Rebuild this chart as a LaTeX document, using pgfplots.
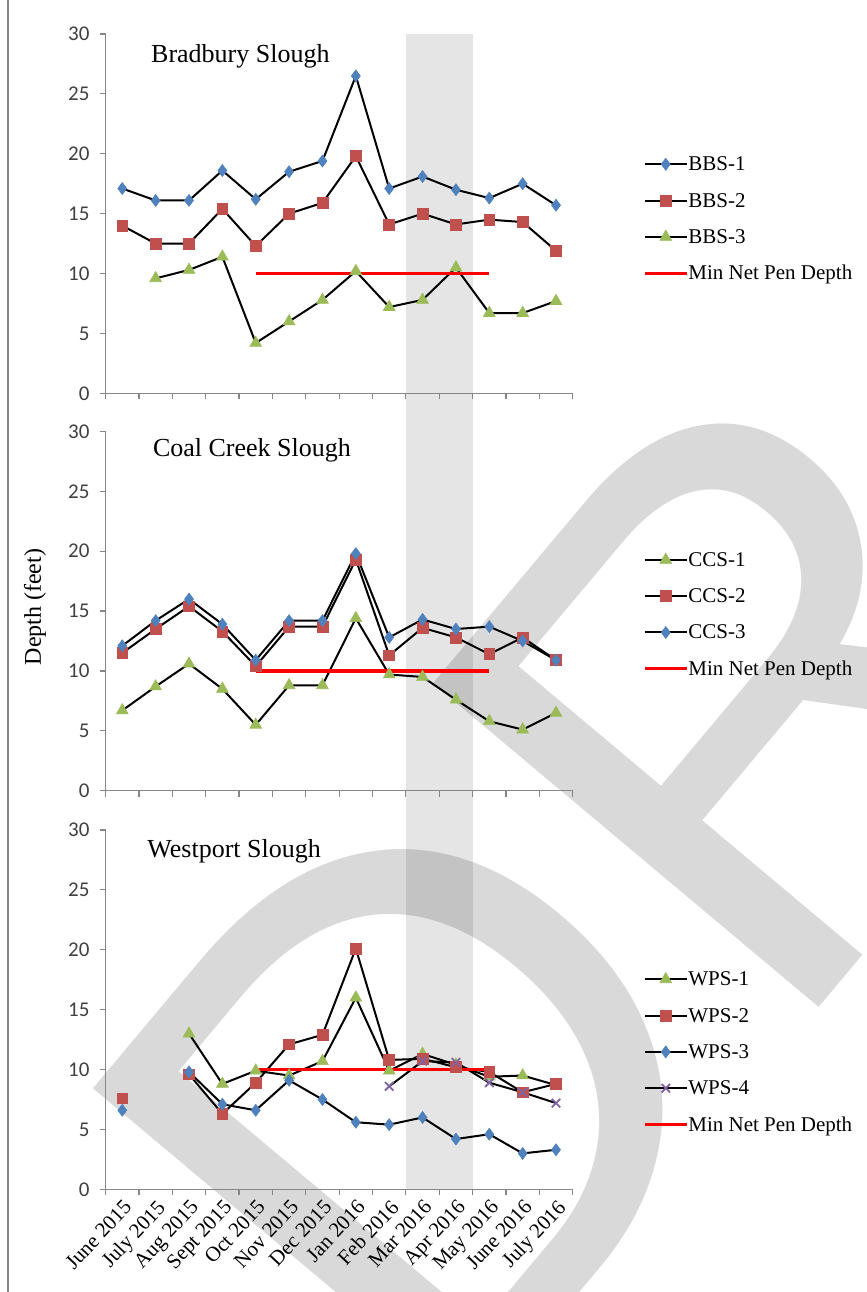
\documentclass[border=0pt]{standalone}
\usepackage{fontspec}
\setmainfont{Liberation Serif}
\newfontfamily\carlito{Carlito}
\newfontfamily\wmfont{Liberation Sans}
\usepackage{pgfplots}
\pgfplotsset{compat=1.18}
\definecolor{xblue}{HTML}{4F81BD}
\definecolor{xred}{HTML}{C0504D}
\definecolor{xgreen}{HTML}{9BBB59}
\definecolor{xpurple}{HTML}{8064A2}
\definecolor{axgray}{HTML}{868686}
\definecolor{ticktext}{HTML}{404040}

\pgfplotsset{
 panel/.style={
  scale only axis, width=233.55pt, height=179.65pt,
  xmin=-0.5, xmax=13.5, ymin=0, ymax=30,
  ytick={0,5,...,30},
  xtick={0,...,13}, major x tick style={draw=none},
  minor xtick={-0.5,0.5,...,13.5},
  axis x line*=bottom, axis y line*=left,
  axis line style={axgray, line width=0.6pt, -},
  tick style={axgray, line width=0.6pt},
  tick align=outside, major tick length=3pt, minor tick length=3pt,
  yticklabel style={font=\carlito\fontsize{10.5}{12}\selectfont, text=ticktext, xshift=-1.5pt},
  /pgf/number format/assume math mode=true,
  unbounded coords=jump,
  clip=false,
  legend style={draw=none, fill=none, anchor=north west, font=\fontsize{10.5}{12}\selectfont,
     inner sep=0pt, row sep=8.65pt, nodes={inner sep=0pt, text height=8pt, text depth=1.5pt},
     cells={anchor=west}, /tikz/every even column/.append style={column sep=1pt}},
  legend image code/.code={\draw[mark repeat=2,mark phase=2,##1] plot coordinates {(0pt,0pt)(10.5pt,0pt)(21pt,0pt)};},
 },
 ser/.style={black, line width=1pt, mark options={solid, draw=#1, fill=#1, line width=0.3pt}},
 minline/.style={red, line width=1.6pt, no marks},
}

\pgfplotstableread{
x  b1   b2   b3
0  17.1 14.0 nan
1  16.1 12.5 9.6
2  16.1 12.5 10.3
3  18.6 15.4 11.4
4  16.2 12.3 4.2
5  18.5 15.0 6.0
6  19.4 15.9 7.8
7  26.5 19.8 10.2
8  17.1 14.1 7.2
9  18.1 15.0 7.8
10 17.0 14.1 10.5
11 16.3 14.5 6.7
12 17.5 14.3 6.7
13 15.7 11.9 7.7
}\bbs

\pgfplotstableread{
x  c1   c2   c3
0  6.7  11.5 12.1
1  8.7  13.5 14.2
2  10.6 15.4 16.0
3  8.5  13.3 13.9
4  5.5  10.4 10.9
5  8.8  13.7 14.2
6  8.8  13.7 14.2
7  14.4 19.3 19.8
8  9.7  11.3 12.8
9  9.5  13.6 14.3
10 7.6  12.8 13.5
11 5.8  11.4 13.7
12 5.1  12.8 12.5
13 6.5  10.9 10.9
}\ccs

\pgfplotstableread{
x  w1   w2   w3   w4
0  nan  7.6  6.6  nan
1  nan  nan  nan  nan
2  13.0 9.6  9.8  nan
3  8.8  6.3  7.1  nan
4  9.9  8.9  6.6  nan
5  9.5  12.1 9.1  nan
6  10.7 12.9 7.5  nan
7  16.0 20.1 5.6  nan
8  9.9  10.8 5.4  8.6
9  11.3 10.9 6.0  10.7
10 10.4 10.2 4.2  10.6
11 9.4  9.8  4.6  8.9
12 9.5  8.1  3.0  8.1
13 8.7  8.8  3.3  7.2
}\wps

\begin{document}
\begin{tikzpicture}
\useasboundingbox (0,0) rectangle (433.5pt,-646pt);
% watermark
\begin{scope}
\clip (0,0) rectangle (433.5pt,-646pt);
\node[rotate=50, text=black, text opacity=0.15, font=\wmfont\fontsize{366}{366}\selectfont, inner sep=0pt] at (516pt,-181pt) {DRAFT};
\end{scope}
% grey band (Mar--Apr 2016)
\fill[black, opacity=0.1] (202.96pt,-17pt) rectangle (236.3pt,-594.65pt);
% left frame line
\draw[color=axgray, line width=1pt] (4pt,0pt) -- (4pt,-646pt);

% Panel 1
\begin{axis}[panel, at={(52.8pt,-196.65pt)}, anchor=south west, xticklabels={},
  legend style={at={(1.150,0.665)}}]
\addplot[ser=xblue, mark=diamond*, mark size=3pt] table[x=x,y=b1] {\bbs};
\addlegendentry{BBS-1}
\addplot[ser=xred, mark=square*, mark size=2.7pt] table[x=x,y=b2] {\bbs};
\addlegendentry{BBS-2}
\addplot[ser=xgreen, mark=triangle*, mark size=3.4pt] table[x=x,y=b3] {\bbs};
\addlegendentry{BBS-3}
\addplot[minline] coordinates {(4,10) (11,10)};
\addlegendentry{Min Net Pen Depth}
\end{axis}

% Panel 2
\begin{axis}[panel, at={(52.8pt,-395.35pt)}, anchor=south west, xticklabels={},
  legend style={at={(1.150,0.670)}}]
\addplot[ser=xgreen, mark=triangle*, mark size=3.4pt] table[x=x,y=c1] {\ccs};
\addlegendentry{CCS-1}
\addplot[ser=xred, mark=square*, mark size=2.7pt] table[x=x,y=c2] {\ccs};
\addlegendentry{CCS-2}
\addplot[ser=xblue, mark=diamond*, mark size=3pt] table[x=x,y=c3] {\ccs};
\addlegendentry{CCS-3}
\addplot[minline] coordinates {(4,10) (11,10)};
\addlegendentry{Min Net Pen Depth}
\end{axis}

% Panel 3
\begin{axis}[panel, at={(52.8pt,-594.65pt)}, anchor=south west,
  xticklabels={June 2015, July 2015, Aug 2015, Sept 2015, Oct 2015, Nov 2015, Dec 2015, Jan 2016, Feb 2016, Mar 2016, Apr 2016, May 2016, June 2016, July 2016},
  xticklabel style={rotate=47, anchor=north east, font=\fontsize{10.5}{12}\selectfont, inner sep=1pt},
  legend style={at={(1.150,0.612)}}]
\addplot[ser=xgreen, mark=triangle*, mark size=3.4pt] table[x=x,y=w1] {\wps};
\addlegendentry{WPS-1}
\addplot[ser=xred, mark=square*, mark size=2.7pt] table[x=x,y=w2] {\wps};
\addlegendentry{WPS-2}
\addplot[ser=xblue, mark=diamond*, mark size=3pt] table[x=x,y=w3] {\wps};
\addlegendentry{WPS-3}
\addplot[black, line width=1pt, mark=x, mark size=3pt, mark options={solid, draw=xpurple, line width=0.9pt}] table[x=x,y=w4] {\wps};
\addlegendentry{WPS-4}
\addplot[minline] coordinates {(4,10) (11,10)};
\addlegendentry{Min Net Pen Depth}
\end{axis}

% panel titles and axis title
\node[anchor=base west, font=\fontsize{13}{15}\selectfont, inner sep=0pt] at (75.4pt,-31.4pt) {Bradbury Slough};
\node[anchor=base west, font=\fontsize{13}{15}\selectfont, inner sep=0pt] at (76.3pt,-228pt) {Coal Creek Slough};
\node[anchor=base west, font=\fontsize{13}{15}\selectfont, inner sep=0pt] at (73.5pt,-428.5pt) {Westport Slough};
\node[rotate=90, font=\fontsize{12}{14}\selectfont, inner sep=0pt] at (17.5pt,-303.5pt) {Depth (feet)};
\end{tikzpicture}
\end{document}
